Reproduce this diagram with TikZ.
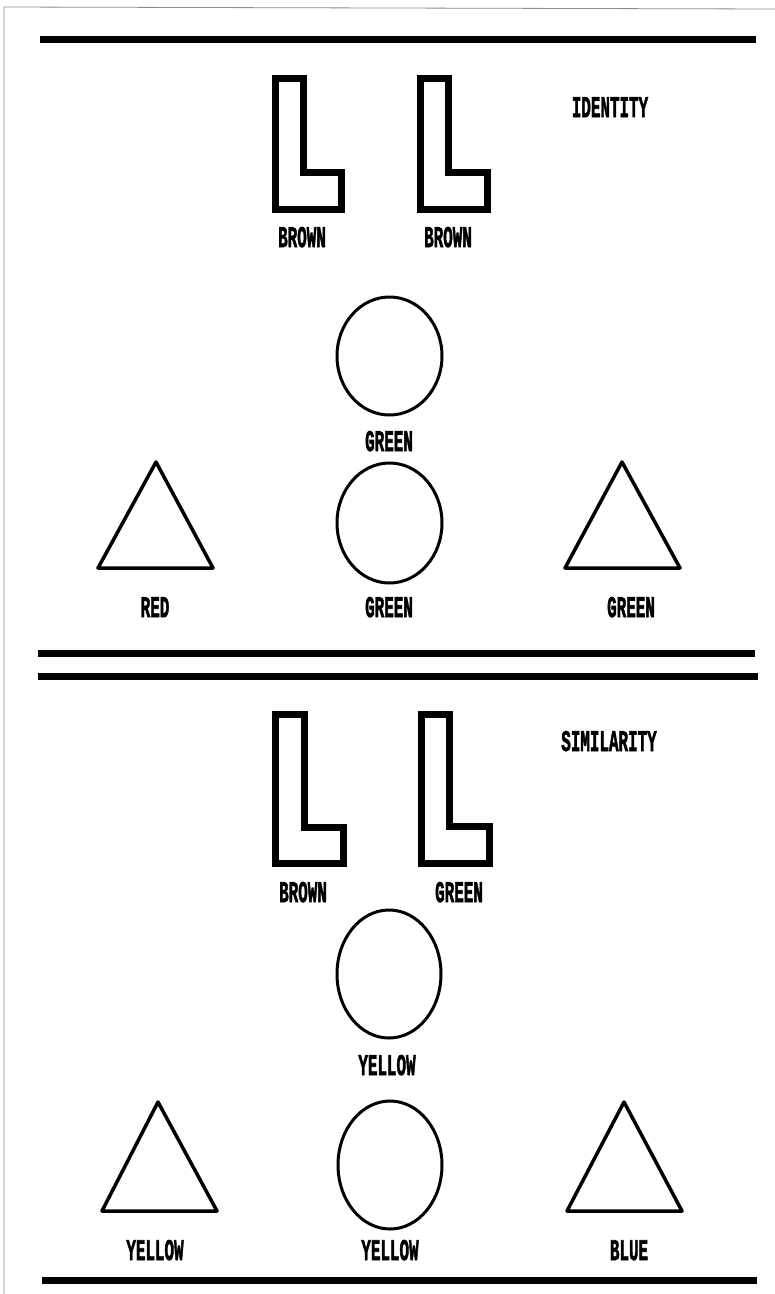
\documentclass[tikz,border=0pt]{standalone}
\usepackage{fontspec}
\usepackage{graphicx}
\newfontfamily\labfont{Liberation Mono}[FakeBold=2.5]
\newcommand{\condtxt}[1]{\scalebox{0.53}[1]{#1}}
\tikzset{
  lab/.style={anchor=base, inner sep=0pt, font=\labfont\bfseries\fontsize{30}{30}\selectfont},
  bar/.style={line width=7pt, line cap=butt},
  lshape/.style={line width=7pt, line join=miter},
  circ/.style={line width=3pt},
  tri/.style={line width=3.5pt, line join=round},
  frame/.style={line width=0.8pt, draw=black!45}
}
\begin{document}
\begin{tikzpicture}[x=1pt,y=-1pt]
\useasboundingbox (0,0) rectangle (775,1294);
\fill[white] (0,0) rectangle (775,1294);
% scan frame
\draw[frame] (4,1294) -- (4,7) -- (775,9);
% bars
\draw[bar] (40,39) -- (756,39);
\draw[bar] (38,653) -- (755,653);
\draw[bar] (38,676) -- (758,676);
\draw[bar] (42,1280) -- (757,1280);
% ---------- IDENTITY ----------
\draw[lshape] (275,78) -- (303,78) -- (303,172) -- (341,172) -- (341,209) -- (275,209) -- cycle;
\draw[lshape] (420,78) -- (448,78) -- (448,172) -- (487,172) -- (487,209) -- (420,209) -- cycle;
\node[lab] (idb1) at (302,247) {\condtxt{BROWN}};
\node[lab] (idb2) at (448,247) {\condtxt{BROWN}};
\node[lab] (idt) at (610,117) {\condtxt{IDENTITY}};
\draw[circ] (389.5,356) ellipse [x radius=52.5, y radius=59];
\node[lab] (idg1) at (389,451) {\condtxt{GREEN}};
\draw[circ] (389.5,523) ellipse [x radius=52.5, y radius=60];
\node[lab] (idg2) at (389,617) {\condtxt{GREEN}};
\draw[tri] (156,462) -- (98,568) -- (213,568) -- cycle;
\node[lab] (idr) at (155,617) {\condtxt{RED}};
\draw[tri] (622,462) -- (565,568) -- (680,568) -- cycle;
\node[lab] (idg3) at (631,617) {\condtxt{GREEN}};
% ---------- SIMILARITY ----------
\draw[lshape] (275,714) -- (304,714) -- (304,827) -- (343,827) -- (343,863) -- (275,863) -- cycle;
\draw[lshape] (421,714) -- (449,714) -- (449,826) -- (489,826) -- (489,863) -- (421,863) -- cycle;
\node[lab] (sb) at (303,902) {\condtxt{BROWN}};
\node[lab] (sg) at (459,902) {\condtxt{GREEN}};
\node[lab] (st) at (609,751) {\condtxt{SIMILARITY}};
\draw[circ] (389,974) ellipse [x radius=52, y radius=64];
\node[lab] (sy1) at (387,1075) {\condtxt{YELLOW}};
\draw[circ] (390,1165) ellipse [x radius=52, y radius=64];
\node[lab] (sy2) at (390,1260) {\condtxt{YELLOW}};
\draw[tri] (158,1102) -- (102,1211) -- (217,1211) -- cycle;
\node[lab] (sy3) at (155,1260) {\condtxt{YELLOW}};
\draw[tri] (624,1102) -- (567,1211) -- (682,1211) -- cycle;
\node[lab] (sbl) at (629,1260) {\condtxt{BLUE}};
\end{tikzpicture}
\end{document}
